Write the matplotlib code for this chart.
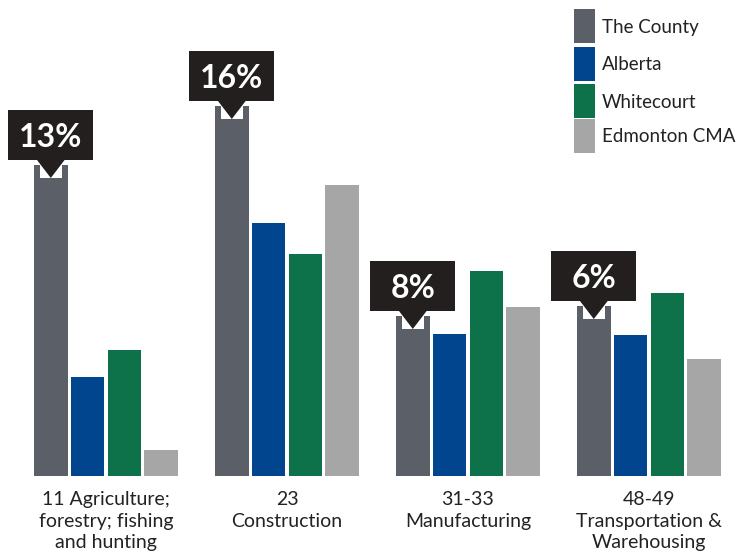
import matplotlib
matplotlib.use("Agg")
import matplotlib.pyplot as plt
from matplotlib.patches import Rectangle, Polygon
import numpy as np

# data (bar heights, same unit as the % callouts)
categories = ["11 Agriculture;\nforestry; fishing\nand hunting",
              "23\nConstruction",
              "31-33\nManufacturing",
              "48-49\nTransportation &\nWarehousing"]
series = ["The County", "Alberta", "Whitecourt", "Edmonton CMA"]
county = [13.45, 16.0, 6.92, 7.35]
alberta = [4.28, 10.94, 6.14, 6.10]
whitecourt = [5.45, 9.60, 8.86, 7.91]
edmonton = [1.12, 12.58, 7.31, 5.06]
callouts = ["13%", "16%", "8%", "6%"]

colors = ["#5b5f67", "#02458f", "#0d7249", "#a6a6a6"]
dark = "#231f1e"

plt.rcParams["font.family"] = ["Lato", "DejaVu Sans"]

W, H = 741, 557
fig = plt.figure(figsize=(W / 100, H / 100), dpi=100)

# axes in pixel terms: baseline at y=476, group 0 centre at x=106, 181 px per group
px_unit = 181.0
py_unit = 23.125
base_px = 476
ax = fig.add_axes([0, (H - base_px) / H, 1, base_px / H])
ax.set_xlim(-106 / px_unit, (W - 106) / px_unit)
ax.set_ylim(0, base_px / py_unit)
ax.axis("off")

x = np.arange(len(categories))
step = 36.8 / px_unit
width = 33.5 / px_unit
all_vals = [county, alberta, whitecourt, edmonton]
for i, vals in enumerate(all_vals):
    ax.bar(x + (i - 1.5) * step, vals, width, color=colors[i], zorder=2)

# callouts over The County bars
box_w = 85 / px_unit
box_h = 50 / py_unit
gap = 5 / py_unit
tri_h = 18 / py_unit
tri_w = 28 / px_unit
notch_w = 22 / px_unit
for i, lab in enumerate(callouts):
    cx = x[i] - 1.5 * step
    top = county[i]
    b0 = top + gap
    apex = b0 - tri_h
    ax.add_patch(Rectangle((cx - notch_w / 2, apex), notch_w, top - apex,
                           facecolor="white", edgecolor="none", zorder=3))
    ax.add_patch(Polygon([(cx - tri_w / 2, b0 + 0.01), (cx + tri_w / 2, b0 + 0.01), (cx, apex)],
                         closed=True, facecolor=dark, edgecolor="none", zorder=4))
    ax.add_patch(Rectangle((cx - box_w / 2, b0), box_w, box_h,
                           facecolor=dark, edgecolor="none", zorder=4))
    ax.text(cx, b0 + box_h / 2, lab, color="white", fontsize=23, fontweight="bold",
            ha="center", va="center_baseline", zorder=5)

# category labels
for i, lab in enumerate(categories):
    fig.text((106 + i * px_unit) / W, (H - 491) / H, lab, ha="center", va="top",
             fontsize=14, linespacing=1.33, color="#222222")

# legend drawn as a column of swatches
sw_x, sw_w = 574, 21
sw_tops = [9, 47, 84, 119]
sw_h = 34
for i, name in enumerate(series):
    t = sw_tops[i]
    fig.add_artist(Rectangle((sw_x / W, (H - t - sw_h) / H), sw_w / W, sw_h / H,
                             transform=fig.transFigure, facecolor=colors[i], edgecolor="none"))
    fig.text(602 / W, (H - t - sw_h / 2 - 1) / H, name, ha="left", va="center",
             fontsize=13.5, color="#222222")

plt.savefig("out.png", dpi=100)
